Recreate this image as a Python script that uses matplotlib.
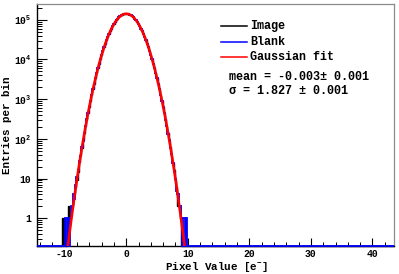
import numpy
import matplotlib
matplotlib.use("Agg")
import matplotlib.pyplot as plt
from matplotlib.lines import Line2D
from matplotlib.ticker import FixedLocator, LogLocator, MultipleLocator, FuncFormatter, NullFormatter

#-------------------------------------------#
#   Histogram data (entries per 0.2 e- bin)  #
#-------------------------------------------#
# bins run from -14.5 to 43.5 e-, the counts below start at the bin [-10.5, -10.3)
x_low, x_high, bin_width = -14.5, 43.5, 0.2
first_edge = -10.5

image_counts = [1, 0, 1, 0, 1, 2, 1, 1, 2, 3, 4, 6, 9, 15, 26, 40, 58, 93, 137, 210,
                305, 452, 640, 925, 1290, 1810, 2460, 3370, 4490, 5980, 7790, 10120,
                12880, 16330, 20370, 25140, 30580, 36920, 43860, 51640, 59870, 68830,
                77960, 87430, 96780, 105870, 114420, 122240, 129010, 134480, 138620,
                141120, 141980, 141170, 138570, 134530, 128960, 122180, 114370, 105920,
                96830, 87380, 78020, 68790, 59930, 51580, 43920, 36880, 30620, 25080,
                20420, 16290, 12910, 10090, 7820, 5960, 4510, 3350, 2480, 1790, 1300,
                915, 650, 445, 310, 205, 141, 90, 61, 38, 24, 16, 9, 6, 2, 2, 1,
                0, 0, 0, 0, 0, 0]

blank_counts = [0, 0, 0, 1, 0, 1, 0, 1, 2, 4, 3, 7, 11, 16, 27, 38, 62, 90, 142, 206,
                311, 446, 652, 918, 1302, 1795, 2475, 3355, 4510, 5960, 7830, 10080,
                12920, 16280, 20430, 25070, 30630, 36860, 43930, 51570, 59940, 68770,
                78050, 87360, 96850, 105810, 114460, 122150, 129060, 134420, 138680,
                141080, 142030, 141130, 138640, 134460, 129030, 122260, 114330, 105950,
                96750, 87450, 77930, 68860, 59850, 51660, 43850, 36950, 30560, 25150,
                20360, 16340, 12870, 10130, 7790, 5990, 4480, 3370, 2460, 1810, 1290,
                926, 641, 452, 305, 211, 136, 94, 58, 41, 25, 15, 10, 5, 4, 2, 2,
                1, 0, 1, 0, 1, 0]

# Gaussian fit parameters
fit_constant = 1.42e5
fit_mean = -0.003
fit_sigma = 1.827

x_ticks = [-10, 0, 10, 20, 30, 40]
legend_labels = ['Image', 'Blank', 'Gaussian fit']
legend_colors = ['black', '#0000ff', '#ff0000']
stat_lines = ['mean = -0.003\u00b1 0.001', '\u03c3 = 1.827 \u00b1 0.001']

y_low, y_high = 0.2, 2.5e5

#-------------------------------------------#
#               Fonts / style               #
#-------------------------------------------#
mono = ['Liberation Mono', 'DejaVu Sans Mono']
plt.rcParams['font.family'] = mono
plt.rcParams['font.weight'] = 'bold'
plt.rcParams['mathtext.fontset'] = 'custom'
plt.rcParams['mathtext.rm'] = 'Liberation Mono:bold'
plt.rcParams['mathtext.it'] = 'Liberation Mono:bold'
plt.rcParams['mathtext.bf'] = 'Liberation Mono:bold'

W, H = 399, 274
fig = plt.figure(figsize=(W / 100, H / 100), dpi=100)
ax = fig.add_axes([37 / W, 1 - 246 / H, 357 / W, 242 / H])

# full set of bin edges and counts (empty bins outside the filled range)
n_bins = int(round((x_high - x_low) / bin_width))
edges = numpy.linspace(x_low, x_high, n_bins + 1)
start = int(round((first_edge - x_low) / bin_width))

def full_counts(counts):
    c = numpy.zeros(n_bins)
    c[start:start + len(counts)] = counts
    # empty bins drawn on the bottom of the frame (log axis)
    return numpy.where(c > 0, c, y_low)

ax.stairs(full_counts(image_counts), edges, baseline=None, color='black', lw=1.0, clip_on=False, zorder=3)
ax.stairs(full_counts(blank_counts), edges, baseline=None, color='#0000ff', lw=1.3, clip_on=False, zorder=4)

xf = numpy.linspace(x_low, x_high, 4000)
yf = fit_constant * numpy.exp(-(xf - fit_mean) ** 2 / (2 * fit_sigma ** 2))
ax.plot(xf, yf, color='#ff0000', lw=1.9, zorder=5)

ax.set_xlim(x_low, x_high)
ax.set_yscale('log')
ax.set_ylim(y_low, y_high)

#-------------------------------------------#
#                Axes / ticks               #
#-------------------------------------------#
for side in ['top', 'right']:
    ax.spines[side].set_color('0.55')
    ax.spines[side].set_linewidth(0.9)
for side in ['left', 'bottom']:
    ax.spines[side].set_color('black')
    ax.spines[side].set_linewidth(1.0)

ax.xaxis.set_major_locator(FixedLocator(x_ticks))
ax.xaxis.set_minor_locator(MultipleLocator(2))
ax.xaxis.set_major_formatter(FuncFormatter(lambda v, p: '%d' % v))
ax.yaxis.set_major_locator(LogLocator(base=10, numticks=10))
ax.yaxis.set_minor_locator(LogLocator(base=10, subs=numpy.arange(2, 10), numticks=20))
ax.yaxis.set_minor_formatter(NullFormatter())

def ylab(v, p):
    e = int(round(numpy.log10(v)))
    if e == 0:
        return '1'
    if e == 1:
        return '10'
    return r'$10^{%d}$' % e
ax.yaxis.set_major_formatter(FuncFormatter(ylab))

ax.tick_params(axis='x', which='major', direction='in', length=6, width=0.8, pad=2, labelsize=7, top=False)
ax.tick_params(axis='x', which='minor', direction='in', length=3, width=0.7, top=False)
ax.tick_params(axis='y', which='major', direction='in', length=7, width=0.8, pad=4, labelsize=7, right=False)
ax.tick_params(axis='y', which='minor', direction='in', length=3.5, width=0.7, right=False)

fig.text(216 / W, 1 - 267 / H, 'Pixel Value [e$^{-}$]', ha='center', va='center', fontsize=7.8, fontweight='bold')
fig.text(7 / W, 1 - 125 / H, 'Entries per bin', ha='center', va='center', rotation=90, fontsize=7.8, fontweight='bold')

#-------------------------------------------#
#             Legend and stats              #
#-------------------------------------------#
legend_y = [26, 41.5, 57]
for lab, col, yp in zip(legend_labels, legend_colors, legend_y):
    fig.add_artist(Line2D([221 / W, 247 / W], [1 - yp / H, 1 - yp / H], color=col, lw=1.1))
    fig.text(250 / W, 1 - yp / H, lab, ha='left', va='center', fontsize=8.5, fontweight='bold')

for txt, yp in zip(stat_lines, [77, 91]):
    fig.text(229 / W, 1 - yp / H, txt, ha='left', va='center', fontsize=8.5, fontweight='bold')

fig.savefig('out.png', dpi=100)
